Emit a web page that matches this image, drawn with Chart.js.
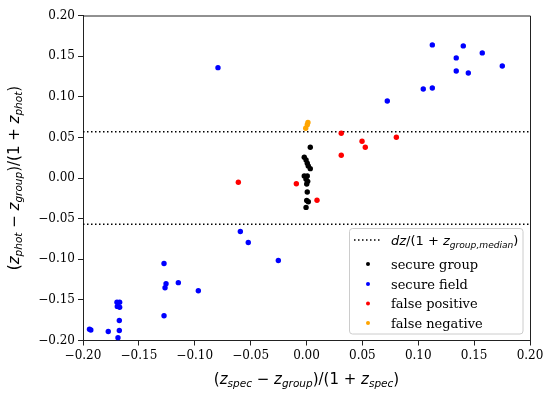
<!DOCTYPE html>
<html><head><meta charset="utf-8">
<script src="https://cdn.jsdelivr.net/npm/chart.js@4.4.0/dist/chart.umd.min.js"></script>
<style>html,body{margin:0;padding:0;background:#fff}#wrap{width:551px;height:397px}</style>
</head><body><div id="wrap"><canvas id="c" width="551" height="397"></canvas></div>
<script>
// ---- data ----
const secureGroupX = [0.0034, -0.0020, -0.0004, 0.0007, 0.0016, 0.0034, -0.0020, 0.0007, -0.0004, 0.0011, 0.0002, 0.0007, 0.0002, 0.0016, -0.0004];
const secureGroupY = [0.0379, 0.0256, 0.0222, 0.0181, 0.0148, 0.0115, 0.0025, 0.0025, -0.0016, -0.0041, -0.0074, -0.0173, -0.0276, -0.0292, -0.0362];

const secureFieldX = [0.1126, 0.1403, 0.1340, 0.1573, 0.1340, 0.1448, 0.1752, 0.1045, 0.1126, 0.0723, -0.0792,
  -0.0592, -0.0521, -0.0252,
  -0.1942, -0.1930, -0.1774, -0.1696, -0.1672, -0.1693, -0.1672, -0.1675, -0.1675, -0.1687,
  -0.1275, -0.1257, -0.1266, -0.1147, -0.1275, -0.0968];
const secureFieldY = [0.1638, 0.1626, 0.1478, 0.1540, 0.1317, 0.1293, 0.1379, 0.1095, 0.1107, 0.0947, 0.1358,
  -0.0658, -0.0794, -0.1016,
  -0.1860, -0.1870, -0.1890, -0.1530, -0.1530, -0.1580, -0.1590, -0.1753, -0.1877, -0.1967,
  -0.1053, -0.1300, -0.1350, -0.1288, -0.1695, -0.1387];

const falsePositiveX = [0.0311, 0.0311, 0.0497, 0.0526, 0.0804, -0.0610, -0.0091, 0.0094];
const falsePositiveY = [0.0551, 0.0280, 0.0453, 0.0379, 0.0502, -0.0053, -0.0070, -0.0274];

const falseNegativeX = [-0.0007, 0.0007, 0.0013];
const falseNegativeY = [0.0613, 0.0655, 0.0683];

const medianDz = 0.057;
const lineX = [-0.2, 0.2];

const xTicks = [-0.20, -0.15, -0.10, -0.05, 0.00, 0.05, 0.10, 0.15, 0.20];
const yTicks = [-0.20, -0.15, -0.10, -0.05, 0.00, 0.05, 0.10, 0.15, 0.20];

const seriesNames = ['secure group', 'secure field', 'false positive', 'false negative'];
const seriesColors = ['#000000', '#0000ff', '#ff0000', '#ffa500'];

// ---- helpers ----
const pts = (xs, ys) => xs.map((x, i) => ({x, y: ys[i]}));
const fmt = v => (v < 0 ? '\u2212' : '') + Math.abs(v).toFixed(2);

function drawMath(ctx, segs, x, y, size, align) {
  let w = 0; const parts = [];
  for (const [t, k] of segs) {
    const fs = k === 's' ? size * 0.7 : size;
    const font = (k === 'r' ? '' : 'italic ') + fs + 'px "DejaVu Sans"';
    ctx.font = font;
    const tw = ctx.measureText(t).width;
    parts.push({t, font, tw, dy: k === 's' ? size * 0.22 : 0});
    w += tw;
  }
  let cx = align === 'center' ? x - w / 2 : x;
  ctx.textBaseline = 'alphabetic'; ctx.textAlign = 'left'; ctx.fillStyle = '#000';
  for (const p of parts) { ctx.font = p.font; ctx.fillText(p.t, cx, y + p.dy); cx += p.tw; }
}

const xLabel = [['(', 'r'], ['z', 'i'], ['spec', 's'], [' \u2212 ', 'r'], ['z', 'i'], ['group', 's'], [')/(1 + ', 'r'], ['z', 'i'], ['spec', 's'], [')', 'r']];
const yLabel = [['(', 'r'], ['z', 'i'], ['phot', 's'], [' \u2212 ', 'r'], ['z', 'i'], ['group', 's'], [')/(1 + ', 'r'], ['z', 'i'], ['phot', 's'], [')', 'r']];
const legLine = [['dz', 'i'], ['/(1 + ', 'r'], ['z', 'i'], ['group,median', 's'], [')', 'r']];

const decor = {
  id: 'decor',
  afterDraw(chart) {
    const {ctx, chartArea: a} = chart;
    ctx.save();
    // top/right spines
    ctx.strokeStyle = '#222'; ctx.lineWidth = 1;
    ctx.beginPath();
    ctx.moveTo(a.left, a.top + 0.5); ctx.lineTo(a.right + 0.5, a.top + 0.5); ctx.lineTo(a.right + 0.5, a.bottom);
    ctx.stroke();
    // axis labels
    drawMath(ctx, xLabel, (a.left + a.right) / 2, 384, 15, 'center');
    ctx.save();
    ctx.translate(19, (a.top + a.bottom) / 2);
    ctx.rotate(-Math.PI / 2);
    drawMath(ctx, yLabel, 0, 0, 15, 'center');
    ctx.restore();
    // legend box
    const bx = 349.5, by = 228.5, bw = 173.5, bh = 105.5, r = 3;
    ctx.beginPath();
    ctx.moveTo(bx + r, by); ctx.lineTo(bx + bw - r, by); ctx.quadraticCurveTo(bx + bw, by, bx + bw, by + r);
    ctx.lineTo(bx + bw, by + bh - r); ctx.quadraticCurveTo(bx + bw, by + bh, bx + bw - r, by + bh);
    ctx.lineTo(bx + r, by + bh); ctx.quadraticCurveTo(bx, by + bh, bx, by + bh - r);
    ctx.lineTo(bx, by + r); ctx.quadraticCurveTo(bx, by, bx + r, by);
    ctx.closePath();
    ctx.fillStyle = 'rgba(255,255,255,0.8)'; ctx.fill();
    ctx.strokeStyle = '#cccccc'; ctx.lineWidth = 1; ctx.stroke();
    // dotted sample
    ctx.strokeStyle = '#000'; ctx.lineWidth = 1.5; ctx.setLineDash([1.5, 2.5]);
    ctx.beginPath(); ctx.moveTo(354, 240); ctx.lineTo(382, 240); ctx.stroke();
    ctx.setLineDash([]);
    drawMath(ctx, legLine, 391, 245, 13, 'left');
    // markers
    const ys = [264, 284, 303.5, 323];
    ctx.font = '13px "DejaVu Serif"'; ctx.textBaseline = 'alphabetic'; ctx.textAlign = 'left';
    seriesNames.forEach((n, i) => {
      ctx.fillStyle = seriesColors[i];
      ctx.beginPath(); ctx.arc(368, ys[i], 2, 0, Math.PI * 2); ctx.fill();
      ctx.fillStyle = '#000';
      ctx.fillText(n, 391, ys[i] + 4.5);
    });
    ctx.restore();
  }
};

const scatterDs = (xs, ys, i, order) => ({
  type: 'scatter', label: seriesNames[i], data: pts(xs, ys),
  backgroundColor: seriesColors[i], borderWidth: 0, pointRadius: 2.7, pointHoverRadius: 2.7, order
});

new Chart(document.getElementById('c'), {
  type: 'scatter',
  data: {
    datasets: [
      {type: 'line', label: 'upper', data: pts(lineX, lineX.map(() => medianDz)), borderColor: '#000', borderWidth: 1.5, borderDash: [1.5, 2.5], pointRadius: 0, fill: false, order: 10},
      {type: 'line', label: 'lower', data: pts(lineX, lineX.map(() => -medianDz)), borderColor: '#000', borderWidth: 1.5, borderDash: [1.5, 2.5], pointRadius: 0, fill: false, order: 10},
      scatterDs(secureGroupX, secureGroupY, 0, 4),
      scatterDs(secureFieldX, secureFieldY, 1, 3),
      scatterDs(falsePositiveX, falsePositiveY, 2, 2),
      scatterDs(falseNegativeX, falseNegativeY, 3, 1)
    ]
  },
  options: {
    responsive: false, animation: false, devicePixelRatio: 1,
    layout: {padding: {left: 0, top: 15.5, right: 21, bottom: 0}},
    plugins: {legend: {display: false}, tooltip: {enabled: false}},
    scales: {
      x: {
        type: 'linear', min: -0.2, max: 0.2,
        afterBuildTicks: s => { s.ticks = xTicks.map(v => ({value: v})); },
        afterFit: s => { s.height = 56.5; },
        ticks: {callback: v => fmt(v), font: {family: 'DejaVu Serif', size: 12}, color: '#000', padding: 3, maxRotation: 0, autoSkip: false},
        grid: {drawOnChartArea: false, drawTicks: true, tickLength: 5, color: '#222', tickWidth: 1},
        border: {display: true, color: '#222', width: 1}
      },
      y: {
        type: 'linear', min: -0.2, max: 0.2,
        afterBuildTicks: s => { s.ticks = yTicks.map(v => ({value: v})); },
        afterFit: s => { s.width = 83; },
        ticks: {callback: v => fmt(v), font: {family: 'DejaVu Serif', size: 12}, color: '#000', padding: 3, autoSkip: false},
        grid: {drawOnChartArea: false, drawTicks: true, tickLength: 5, color: '#222', tickWidth: 1},
        border: {display: true, color: '#222', width: 1}
      }
    }
  },
  plugins: [decor]
});
</script></body></html>
